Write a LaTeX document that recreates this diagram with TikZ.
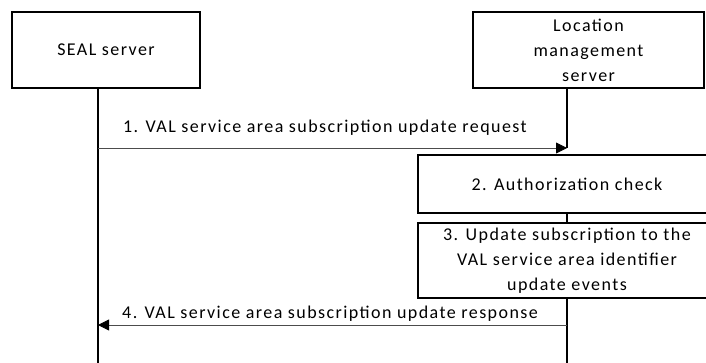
\documentclass[tikz,border=0pt]{standalone}
\usepackage{fontspec}
\setmainfont[LetterSpace=8]{Carlito}
\usetikzlibrary{arrows.meta}
\begin{document}
\begin{tikzpicture}[x=1pt,y=1pt,
  ent/.style={draw,line width=1.5pt,minimum width=188pt,minimum height=76pt,inner sep=0pt,align=center,font=\fontsize{18}{25}\selectfont},
  act/.style={draw,line width=1.5pt,minimum width=298pt,inner sep=0pt,align=center,font=\fontsize{18}{25}\selectfont},
  life/.style={line width=1.5pt},
  msg/.style={line width=0.8pt,draw=black!70,-{Triangle[length=11pt,width=11pt,color=black]}},
  lbl/.style={font=\fontsize{18}{20}\selectfont,anchor=base west,inner sep=0pt}]
\useasboundingbox (0,0) rectangle (706,-363);
\node[ent] (seal) at (106,-50) {SEAL server};
\node[ent,minimum width=231pt] (lms) at (588.5,-50) {Location\\management\\server};
\coordinate (sealend) at (98,-365);
\coordinate (lmsend) at (567,-365);
\coordinate (s1) at (98,-148);
\coordinate (l1) at (567,-148);
\coordinate (s4) at (98,-325);
\coordinate (l4) at (567,-325);
\node[act,minimum height=58pt] (auth) at (567,-184) {2. Authorization check};
\node[act,minimum height=75pt] (upd) at (567,-260.5) {3. Update subscription to the\\VAL service area identifier\\update events};
\draw[life] (98,-88) -- (sealend);
\draw[life] (567,-88) -- (l1);
\draw[life] (auth.south -| lmsend) -- (upd.north -| lmsend);
\draw[life] (upd.south -| lmsend) -- (lmsend);
\draw[msg] (s1) -- (l1);
\draw[msg] (l4) -- (s4);
\node[lbl] (m1) at (123,-133) {1. VAL service area subscription update request};
\node[lbl] (m4) at (122,-318) {4. VAL service area subscription update response};
\end{tikzpicture}
\end{document}
